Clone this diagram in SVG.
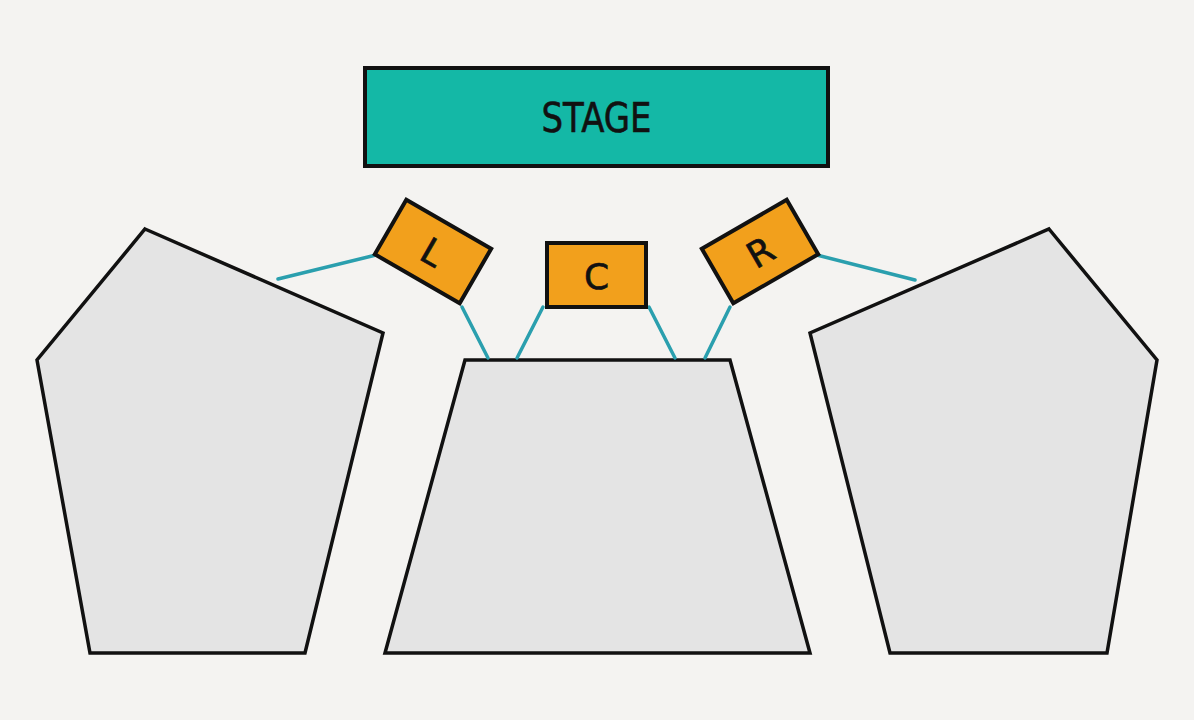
<svg xmlns="http://www.w3.org/2000/svg" width="1194" height="720" viewBox="0 0 1194 720">
  <style>
    .section { fill: #e4e4e4; stroke: #111; stroke-width: 3.5; stroke-linejoin: miter; }
    .speaker { fill: #f2a01c; stroke: #111; stroke-width: 4; }
    .stage { fill: #14b8a6; stroke: #111; stroke-width: 4; }
    .label { font-family: "DejaVu Sans", "Liberation Sans", sans-serif; fill: #111; stroke: #111; stroke-width: 0.6; text-anchor: middle; dominant-baseline: central; }
    .wire { stroke: #2a9fae; stroke-width: 3.5; stroke-linecap: round; fill: none; }
  </style>
  <rect x="0" y="0" width="1194" height="720" fill="#f4f3f1"/>

  <g id="section-left">
    <polygon class="section" points="145,229 383,333 305,653 90,653 37,360"/>
  </g>
  <g id="section-center">
    <polygon class="section" points="465,360 730,360 810,653 385,653"/>
  </g>
  <g id="section-right">
    <polygon class="section" points="1049,229 1157,360 1107,653 890,653 810,333"/>
  </g>

  <g id="connectors">
    <line class="wire" x1="380" y1="254" x2="278" y2="279"/>
    <line class="wire" x1="462" y1="307" x2="488" y2="358"/>
    <line class="wire" x1="543" y1="307" x2="517" y2="358"/>
    <line class="wire" x1="649" y1="307" x2="675" y2="358"/>
    <line class="wire" x1="730" y1="307" x2="705" y2="358"/>
    <line class="wire" x1="813" y1="254" x2="915" y2="280"/>
  </g>

  <g id="stage">
    <rect class="stage" x="365" y="68" width="463" height="98"/>
    <text class="label" x="596.5" y="118" font-size="41" textLength="110" lengthAdjust="spacingAndGlyphs">STAGE</text>
  </g>

  <g id="speaker-L" transform="translate(433,251.5) rotate(30)">
    <rect class="speaker" x="-49" y="-31.5" width="98" height="63"/>
    <text class="label" x="0" y="1" font-size="36">L</text>
  </g>
  <g id="speaker-C">
    <rect class="speaker" x="547" y="243" width="99" height="64"/>
    <text class="label" x="596.5" y="276" font-size="36">C</text>
  </g>
  <g id="speaker-R" transform="translate(760,251.5) rotate(-30)">
    <rect class="speaker" x="-49" y="-31.5" width="98" height="63"/>
    <text class="label" x="0" y="1" font-size="36">R</text>
  </g>
</svg>
